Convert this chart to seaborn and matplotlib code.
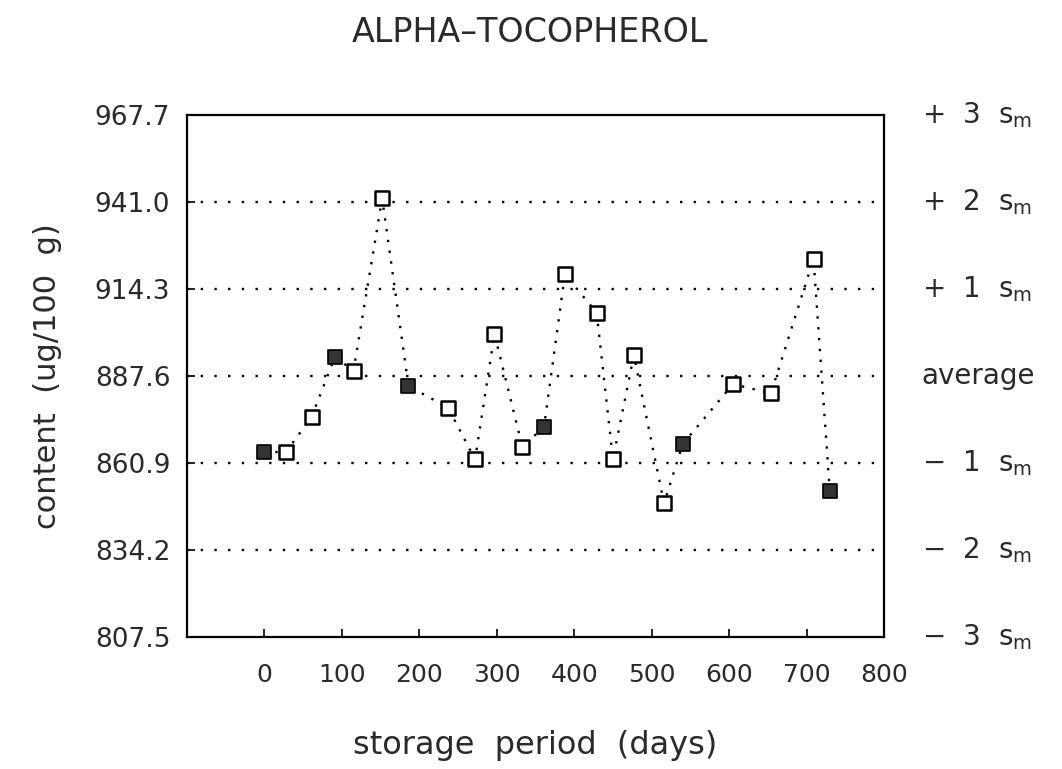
import numpy as np
import pandas as pd
import matplotlib
matplotlib.use("Agg")
import matplotlib.pyplot as plt
import matplotlib.transforms as mtransforms
import seaborn as sns

# ---- data ----
days = [0, 28, 61, 91, 115, 152, 186, 237, 272, 297, 333, 361,
        388, 429, 450, 477, 516, 540, 605, 654, 709, 730]
content = [864.2, 864.3, 875.1, 893.5, 889.2, 942.1, 884.5, 877.9, 862.0, 900.5, 865.9, 872.0,
           918.8, 907.0, 862.1, 894.0, 848.5, 866.7, 885.1, 882.3, 923.5, 852.3]
filled = [True, False, False, True, False, False, True, False, False, False, False, True,
          False, False, False, False, False, True, False, False, False, True]

y_ticks = [807.5, 834.2, 860.9, 887.6, 914.3, 941.0, 967.7]
y_tick_labels = ["807.5", "834.2", "860.9", "887.6", "914.3", "941.0", "967.7"]
x_ticks = [0, 100, 200, 300, 400, 500, 600, 700, 800]
grid_levels = [834.2, 860.9, 887.6, 914.3, 941.0]
right_labels = ["\u2212  3  s$_\\mathrm{m}$", "\u2212  2  s$_\\mathrm{m}$", "\u2212  1  s$_\\mathrm{m}$",
                "average", "+  1  s$_\\mathrm{m}$", "+  2  s$_\\mathrm{m}$", "+  3  s$_\\mathrm{m}$"]

df = pd.DataFrame({"days": days, "content": content, "filled": filled})

sns.set_style("white")
plt.rcParams["font.family"] = ["DejaVu Sans"]
plt.rcParams["mathtext.fontset"] = "dejavusans"
plt.rcParams["mathtext.default"] = "regular"

TXT = "#2a2a2a"

fig = plt.figure(figsize=(10.62, 7.69), dpi=100)
ax = fig.add_axes([187 / 1062, 1 - 637 / 769, (884 - 187) / 1062, (637 - 115) / 769])

# horizontal dotted reference lines
for g in grid_levels:
    ax.axhline(g, color="black", lw=1.7, ls=(0, (1, 4.8)), zorder=1)

# dotted connecting line
sns.lineplot(data=df, x="days", y="content", ax=ax, sort=False, color="black",
             lw=1.7, ls=(0, (1, 3.6)), zorder=2)

# markers: open and filled squares
sns.scatterplot(data=df[~df["filled"]], x="days", y="content", ax=ax, marker="s",
                s=100, facecolor="white", edgecolor="black", linewidth=1.8, zorder=3)
sns.scatterplot(data=df[df["filled"]], x="days", y="content", ax=ax, marker="s",
                s=100, facecolor="#333333", edgecolor="black", linewidth=1.2, zorder=3)

ax.set_xlim(-100, 800)
ax.set_ylim(807.5, 967.7)
ax.set_xticks(x_ticks)
ax.set_xticklabels([str(v) for v in x_ticks], fontsize=18)
ax.set_yticks(y_ticks)
ax.set_yticklabels(y_tick_labels, fontsize=19)
ax.tick_params(axis="both", direction="in", length=6, width=1.2, color="black",
               labelcolor=TXT, left=True, bottom=True)
ax.tick_params(axis="x", pad=19)
ax.tick_params(axis="y", pad=12)

for sp in ax.spines.values():
    sp.set_visible(True)
    sp.set_color("black")
    sp.set_linewidth(1.6)

ax.set_xlabel("storage  period  (days)", fontsize=23, labelpad=31, color=TXT)
ax.set_ylabel("content  (ug/100  g)", fontsize=22, labelpad=24, color=TXT)
fig.text(530 / 1062, 1 - 32 / 769, "ALPHA\u2013TOCOPHEROL", fontsize=24,
         ha="center", va="center", color=TXT)

trans = mtransforms.blended_transform_factory(ax.transAxes, ax.transData)
for lvl, lab in zip(y_ticks, right_labels):
    ax.text(1.054, lvl, lab, transform=trans, fontsize=20, va="center", ha="left",
            color=TXT)

fig.savefig("out.png", dpi=100)
